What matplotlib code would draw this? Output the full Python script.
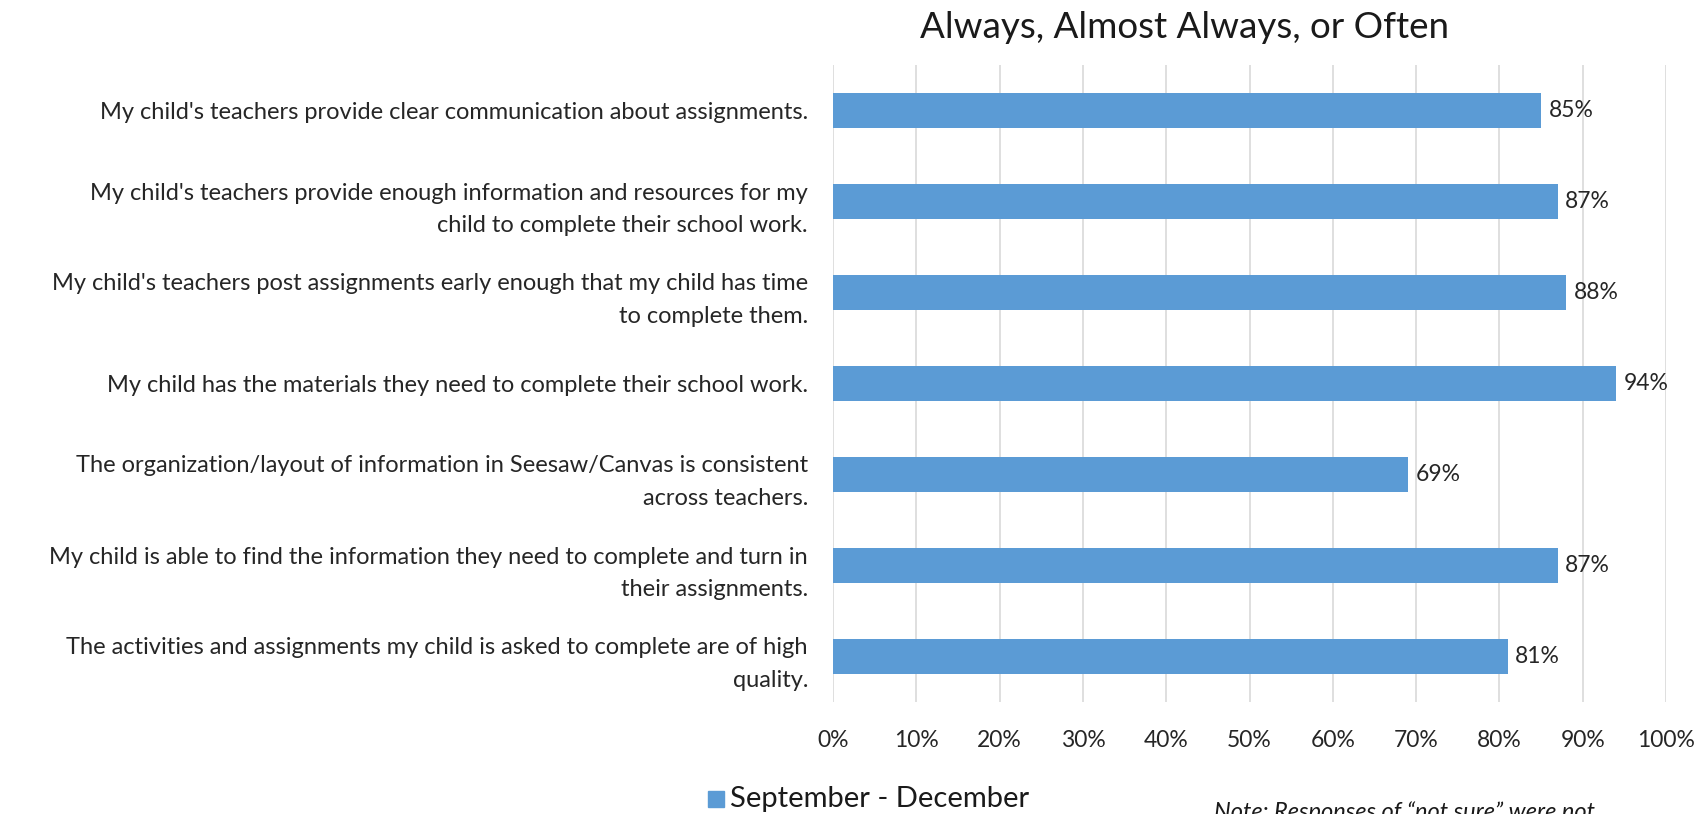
import matplotlib

matplotlib.use("Agg")
import matplotlib.pyplot as plt
from matplotlib.patches import Rectangle
from matplotlib.ticker import FuncFormatter, MultipleLocator

plt.rcParams["font.family"] = ["Lato", "DejaVu Sans"]

# survey statements, top to bottom
statements = [
    "My child's teachers provide clear communication about assignments.",
    "My child's teachers provide enough information and resources for my\nchild to complete their school work.",
    "My child's teachers post assignments early enough that my child has time\nto complete them.",
    "My child has the materials they need to complete their school work.",
    "The organization/layout of information in Seesaw/Canvas is consistent\nacross teachers.",
    "My child is able to find the information they need to complete and turn in\ntheir assignments.",
    "The activities and assignments my child is asked to complete are of high\nquality.",
]
# share answering Always / Almost Always / Often, in percent
sep_dec = [85, 87, 88, 94, 69, 87, 81]
series_name = "September - December"
bar_color = "#5B9BD5"

W, H = 1707, 814
fig = plt.figure(figsize=(W / 100, H / 100), dpi=100)
ax = fig.add_axes([833 / W, 1 - 702 / H, (1666 - 833) / W, (702 - 65) / H])

ypos = list(range(len(statements)))
ax.barh(ypos, sep_dec, height=0.39, color=bar_color, zorder=2)
for y, v in zip(ypos, sep_dec):
    ax.text(v + 0.9, y, f"{v}%", va="center", ha="left", fontsize=16.5, color="#262626")

ax.set_xlim(0, 100)
ax.set_ylim(len(statements) - 0.5, -0.5)
ax.xaxis.set_major_locator(MultipleLocator(10))
ax.xaxis.set_major_formatter(FuncFormatter(lambda x, _: f"{x:.0f}%"))
ax.set_yticks(ypos)
ax.set_yticklabels(statements, fontsize=17, color="#262626", linespacing=1.65)
ax.tick_params(axis="both", length=0)
ax.tick_params(axis="x", labelsize=16.5, labelcolor="#262626", pad=20)
ax.tick_params(axis="y", pad=18)
ax.grid(axis="x", color="#D9D9D9", linewidth=1.2, zorder=0)
for s in ax.spines.values():
    s.set_visible(False)

fig.text(1184 / W, 1 - 27 / H, "Always, Almost Always, or Often", ha="center", va="center",
         fontsize=26.5, color="#1a1a1a")

# legend swatch and label
fig.patches.append(Rectangle((708 / W, 1 - 807 / H), 16 / W, 16 / H,
                             transform=fig.transFigure, color=bar_color))
fig.text(730 / W, 1 - 799 / H, series_name, ha="left", va="center", fontsize=21, color="#1a1a1a")

fig.text(1214 / W, 1 - 812 / H, "Note: Responses of \u201cnot sure\u201d were not",
         ha="left", va="center", fontsize=17, style="italic", color="#1a1a1a")

fig.savefig("out.png", dpi=100, facecolor="white")
